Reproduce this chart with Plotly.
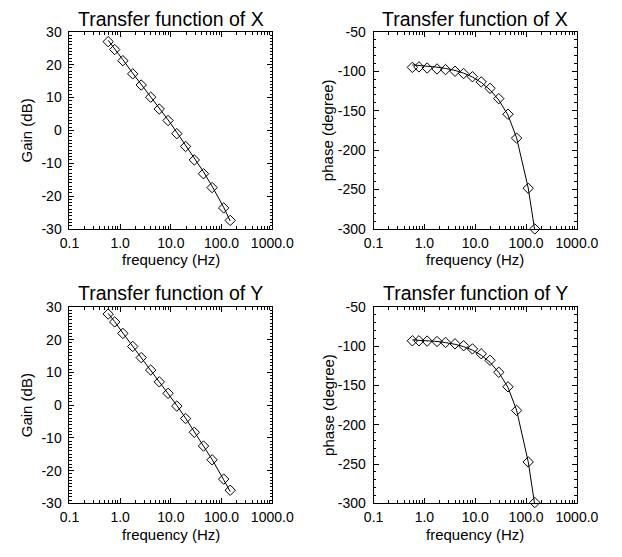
import plotly.graph_objects as go

# ---------------- data ----------------
freq = [0.58, 0.78, 1.13, 1.77, 2.6, 4.0, 5.9, 8.8, 13.1, 19.5, 29.0, 44.0, 65.0, 110.0, 148.0]

gain_x_pts = [27.0, 24.6, 21.2, 17.2, 13.8, 10.1, 6.5, 3.0, -1.0, -4.9, -9.0, -13.2, -17.4, -23.6, -27.4]
gain_x_fit = [27.4, 24.9, 21.5, 17.4, 14.0, 10.3, 6.7, 3.2, -0.6, -4.5, -8.4, -12.6, -17.0, -23.4, -27.6]
phase_x_pts = [-95.1, -94.5, -95.9, -97.1, -97.9, -100.0, -102.9, -107.0, -113.5, -121.7, -134.8, -154.5, -184.8, -248.4, -300.0]
phase_x_fit = [-92.0, -92.6, -93.4, -94.8, -96.5, -99.0, -102.4, -107.3, -114.3, -123.5, -136.5, -155.5, -184.5, -248.0, -302.0]

gain_y_pts = [27.8, 25.4, 21.9, 17.9, 14.5, 10.7, 7.1, 3.6, -0.3, -4.1, -8.3, -12.5, -16.7, -22.6, -26.0]
gain_y_fit = [28.0, 25.5, 22.0, 18.0, 14.6, 10.8, 7.2, 3.7, -0.1, -4.0, -8.1, -12.3, -16.6, -22.8, -26.4]
phase_y_pts = [-93.2, -93.2, -93.5, -94.1, -95.3, -97.0, -99.4, -103.5, -109.7, -118.0, -133.2, -151.7, -181.8, -247.3, -299.0]
phase_y_fit = [-92.0, -92.3, -92.9, -94.0, -95.5, -97.6, -100.6, -105.0, -111.5, -120.5, -133.5, -152.5, -181.5, -247.0, -302.0]

x_tickvals = [0.1, 1, 10, 100, 1000]
x_ticktext = ["0.1", "1.0", "10.0", "100.0", "1000.0"]
x_minor_vals = [m * d for d in (0.1, 1, 10, 100) for m in range(2, 10)]
gain_ticks = [-30, -20, -10, 0, 10, 20, 30]
gain_ticktext = ["-30", "-20", "-10", "0", "10", "20", "30"]
phase_ticks = [-300, -250, -200, -150, -100, -50]
phase_ticktext = ["-300", "-250", "-200", "-150", "-100", "-50"]

title_x = "Transfer function of X"
title_y = "Transfer function of Y"
xlabel = "frequency (Hz)"
gain_label = "Gain (dB)"
phase_label = "phase (degree)"

# ---------------- layout geometry ----------------
W, H = 622, 557
FONT = "Liberation Sans, Arial, Helvetica, sans-serif"

def px_x(p):
    return p / W

def px_y(p):
    return (H - p) / H

xdom_l = [px_x(62.7), px_x(276.5)]
xdom_r = [px_x(383.3), px_x(597.7)]
ydom_t = [px_y(227.5), px_y(24.5)]
ydom_b = [px_y(510.0), px_y(307.7)]

fig = go.Figure()

panels = [
    ("x", "y", xdom_l, ydom_t, gain_x_pts, gain_x_fit, [-30, 30], gain_ticks, gain_ticktext, 1),
    ("x2", "y2", xdom_r, ydom_t, phase_x_pts, phase_x_fit, [-300, -50], phase_ticks, phase_ticktext, 10),
    ("x3", "y3", xdom_l, ydom_b, gain_y_pts, gain_y_fit, [-30, 30], gain_ticks, gain_ticktext, 1),
    ("x4", "y4", xdom_r, ydom_b, phase_y_pts, phase_y_fit, [-300, -50], phase_ticks, phase_ticktext, 10),
]

layout_axes = {}
for xa, ya, xd, yd, pts, fit, yr, yt, ytt, ymin in panels:
    fig.add_trace(go.Scatter(x=freq, y=fit, mode="lines", xaxis=xa, yaxis=ya,
                             line=dict(color="black", width=1), showlegend=False,
                             cliponaxis=True))
    fig.add_trace(go.Scatter(x=freq, y=pts, mode="markers", xaxis=xa, yaxis=ya,
                             marker=dict(symbol="diamond-open", size=8,
                                         color="black", line=dict(width=1, color="black")),
                             showlegend=False, cliponaxis=False))
    xkey = "xaxis" + xa[1:]
    ykey = "yaxis" + ya[1:]
    common = dict(showgrid=False, zeroline=False, showline=True, linecolor="black",
                  linewidth=1, mirror="allticks", ticks="inside", tickcolor="black",
                  tickwidth=1, ticklen=5,
                  tickfont=dict(family=FONT, size=14, color="black"))
    layout_axes[xkey] = dict(domain=xd, anchor=ya, type="log", range=[-1, 3],
                             tickmode="array", tickvals=x_tickvals, ticktext=x_ticktext,
                             ticklabelstandoff=1,
                             minor=dict(ticks="inside", ticklen=3, tickcolor="black",
                                        tickwidth=1, showgrid=False,
                                        tickmode="array", tickvals=x_minor_vals),
                             **common)
    layout_axes[ykey] = dict(domain=yd, anchor=xa, range=yr, tickmode="array",
                             tickvals=yt, ticktext=ytt,
                             ticklabelstandoff=4,
                             minor=dict(ticks="inside", ticklen=2.5, tickcolor="black",
                                        tickwidth=1, dtick=ymin, showgrid=False),
                             **common)

annotations = []
def ann(text, x, y, size, angle=0):
    annotations.append(dict(text=text, x=x, y=y, xref="paper", yref="paper",
                            xanchor="center", yanchor="middle", showarrow=False,
                            textangle=angle, font=dict(family=FONT, size=size, color="black")))

cx_l = px_x((62.7 + 276.5) / 2)
cx_r = px_x((383.3 + 597.7) / 2)
cy_t = px_y(126.0)
cy_b = px_y(408.9)

ann(title_x, cx_l, px_y(11), 19.5)
ann(title_x, cx_r, px_y(11), 19.5)
ann(title_y, cx_l, px_y(293), 19.5)
ann(title_y, cx_r, px_y(293), 19.5)
for cx in (cx_l, cx_r):
    ann(xlabel, cx, px_y(259), 15)
    ann(xlabel, cx, px_y(542), 15)
ann(gain_label, px_x(17), cy_t, 15, -90)
ann(gain_label, px_x(17), cy_b, 15, -90)
ann(phase_label, px_x(335), cy_t, 15, -90)
ann(phase_label, px_x(335), cy_b, 15, -90)

fig.update_layout(width=W, height=H, margin=dict(l=0, r=0, t=0, b=0),
                  paper_bgcolor="white", plot_bgcolor="white",
                  annotations=annotations, **layout_axes)

fig.write_html("out.html")
